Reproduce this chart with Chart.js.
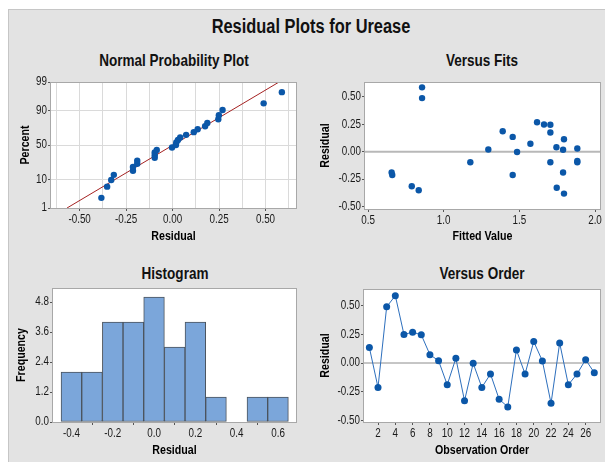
<!DOCTYPE html>
<html>
<head>
<meta charset="utf-8">
<title>Residual Plots for Urease</title>
<script src="https://cdn.jsdelivr.net/npm/chart.js@4.4.0/dist/chart.umd.min.js"></script>
<style>
  body { margin:0; background:#fff; width:605px; height:462px; position:relative; overflow:hidden;
         font-family:'Liberation Sans',Arial,sans-serif; }
  #frame { position:absolute; left:8px; top:9px; width:597px; height:453px; background:#e3e3e3;
           border-top:1px solid #c6c6c6; border-left:1px solid #c6c6c6; box-sizing:border-box; }
  /* the original uses a condensed face, so squeeze the text a bit */
  .ttl { position:absolute; font-weight:bold; color:#111; white-space:nowrap; transform:translate(-50%,-50%) scaleX(0.82); }
  canvas { position:absolute; }
</style>
</head>
<body>
<div id="frame"></div>
<div class="ttl" style="left:311px;top:26px;font-size:20px">Residual Plots for Urease</div>
<div class="ttl" style="left:174px;top:60px;font-size:16.5px">Normal Probability Plot</div>
<div class="ttl" style="left:482px;top:60px;font-size:16.5px">Versus Fits</div>
<div class="ttl" style="left:175px;top:273px;font-size:16.5px">Histogram</div>
<div class="ttl" style="left:482px;top:273px;font-size:16.5px">Versus Order</div>

<canvas id="npp"   width="300" height="212" style="left:0;top:40px"></canvas>
<canvas id="fits"  width="305" height="212" style="left:300px;top:40px"></canvas>
<canvas id="hist"  width="300" height="207" style="left:0;top:255px"></canvas>
<canvas id="order" width="305" height="207" style="left:300px;top:255px"></canvas>

<script>
// residuals in observation order, and the fitted value of each observation
var observation = [1,2,3,4,5,6,7,8,9,10,11,12,13,14,15,16,17,18,19,20,21,22,23,24,25,26,27];
var residuals = [0.135,-0.213,0.490,0.588,0.249,0.269,0.246,0.073,0.020,-0.190,0.041,-0.330,-0.003,-0.213,
                 -0.096,-0.316,-0.383,0.114,-0.096,0.187,0.018,-0.352,0.175,-0.190,-0.096,0.029,-0.085];
var fitted = [1.456,0.660,0.857,0.857,1.663,1.617,1.705,1.573,1.295,0.656,1.745,1.747,1.485,1.456,
              1.176,0.789,1.795,1.795,1.705,1.390,1.789,0.835,1.705,1.789,1.883,1.883,1.883];

// histogram bins (midpoints) and counts
var binMids = [-0.4,-0.3,-0.2,-0.1,0.0,0.1,0.2,0.3,0.4,0.5,0.6];
var binCounts = [2,2,4,4,5,3,4,1,0,1,1];

// tick labels
var probTicks = [1,10,50,90,99];
var nppGrid = [-0.625,-0.5,-0.375,-0.25,-0.125,0,0.125,0.25,0.375,0.5,0.625];
var nppLabels = [-0.5,-0.25,0,0.25,0.5];
var residTicks = [-0.5,-0.25,0,0.25,0.5];
var fitTicks = [0.5,1.0,1.5,2.0];
var freqTicks = [0,1.2,2.4,3.6,4.8];
var histTicks = [-0.4,-0.2,0,0.2,0.4,0.6];
var orderTicks = [2,4,6,8,10,12,14,16,18,20,22,24,26];

var FONT = "'Liberation Sans',Arial,sans-serif";
var BLUE = '#0b57a8';
var tickFont = {family: FONT, size: 12};
var titleFont = {family: FONT, size: 13, weight: 'bold'};

// no narrow font installed: draw canvas text horizontally condensed around its anchor
var SQUEEZE = 0.82;
var plainFillText = CanvasRenderingContext2D.prototype.fillText;
CanvasRenderingContext2D.prototype.fillText = function(text, x, y) {
  this.save();
  this.translate(x, y);
  this.scale(SQUEEZE, 1);
  plainFillText.call(this, text, 0, 0);
  this.restore();
};

function normInv(p) {
  var a=[-39.69683028665376,220.9460984245205,-275.9285104469687,138.3577518672690,-30.66479806614716,2.506628277459239];
  var b=[-54.47609879822406,161.5858368580409,-155.6989798598866,66.80131188771972,-13.28068155288572];
  var c=[-0.007784894002430293,-0.3223964580411365,-2.400758277161838,-2.549732539343734,4.374664141464968,2.938163982698783];
  var d=[0.007784695709041462,0.3224671290700398,2.445134137142996,3.754408661907416];
  var q, r;
  if (p < 0.02425) {
    q = Math.sqrt(-2*Math.log(p));
    return (((((c[0]*q+c[1])*q+c[2])*q+c[3])*q+c[4])*q+c[5])/((((d[0]*q+d[1])*q+d[2])*q+d[3])*q+1);
  }
  if (p > 1-0.02425) return -normInv(1-p);
  q = p-0.5; r = q*q;
  return (((((a[0]*r+a[1])*r+a[2])*r+a[3])*r+a[4])*r+a[5])*q/(((((b[0]*r+b[1])*r+b[2])*r+b[3])*r+b[4])*r+1);
}

// white plot area + grey frame
var boxPlugin = {
  id: 'box',
  beforeDraw: function(chart) {
    var a = chart.chartArea, c = chart.ctx;
    c.save(); c.fillStyle = '#fff'; c.fillRect(a.left, a.top, a.right-a.left, a.bottom-a.top); c.restore();
  },
  afterDraw: function(chart) {
    var a = chart.chartArea, c = chart.ctx;
    c.save(); c.strokeStyle = '#a8a8a8'; c.lineWidth = 1;
    c.strokeRect(Math.round(a.left)-0.5, Math.round(a.top)+0.5, Math.round(a.right-a.left)+1, Math.round(a.bottom-a.top));
    c.restore();
  }
};
// horizontal reference line at residual 0
var zeroPlugin = {
  id: 'zero',
  beforeDatasetsDraw: function(chart, args, opts) {
    if (!opts.width) return;
    var a = chart.chartArea, c = chart.ctx, y = chart.scales.y.getPixelForValue(0);
    c.save(); c.strokeStyle = opts.color; c.lineWidth = opts.width;
    c.beginPath(); c.moveTo(a.left, y); c.lineTo(a.right, y); c.stroke(); c.restore();
  }
};
Chart.register(boxPlugin, zeroPlugin);

function fixTicks(arr) { return function(s) { s.ticks = arr.map(function(v){ return {value: v}; }); }; }
function fixW(w) { return function(s) { s.width = w; }; }
function fixH(h) { return function(s) { s.height = h; }; }
function axisTitle(t) { return {display: true, text: t, font: titleFont, color: '#000', padding: 0}; }
function plainGrid() { return {drawOnChartArea: false, tickLength: 3, tickColor: '#555'}; }

var baseOpts = {responsive: false, animation: false, events: []};
function opts(pad, scales, zero) {
  return Object.assign({}, baseOpts, {
    layout: {padding: pad},
    plugins: {legend: {display: false}, tooltip: {enabled: false}, zero: zero || {}},
    scales: scales
  });
}

// ---- Normal probability plot
var n = residuals.length;
var sorted = residuals.slice().sort(function(a, b){ return a - b; });
var nppPts = sorted.map(function(v, i){ return {x: v, y: normInv((i + 1 - 0.3) / (n + 0.4))}; });
var mean = residuals.reduce(function(s, v){ return s + v; }, 0) / n;
var sd = Math.sqrt(residuals.reduce(function(s, v){ return s + (v - mean) * (v - mean); }, 0) / (n - 1));
var zLo = normInv(probTicks[0] / 100), zHi = normInv(probTicks[probTicks.length - 1] / 100);
var fitLine = [{x: mean + sd * zLo, y: zLo}, {x: mean + sd * zHi, y: zHi}];

new Chart(document.getElementById('npp'), {
  type: 'scatter',
  data: {datasets: [
    {data: nppPts, backgroundColor: BLUE, borderColor: BLUE, pointRadius: 3.2, borderWidth: 0},
    {data: fitLine, showLine: true, borderColor: '#a52222', borderWidth: 1, pointRadius: 0}
  ]},
  options: opts({left: 18, right: 3, top: 42, bottom: 8}, {
    x: {type: 'linear', min: -0.654, max: 0.664, afterBuildTicks: fixTicks(nppGrid), afterFit: fixH(36),
        ticks: {font: tickFont, color: '#1a1a1a', padding: 1, maxRotation: 0, autoSkip: false,
                callback: function(v){ return nppLabels.indexOf(v) >= 0 ? v.toFixed(2) : ''; }},
        grid: {color: '#dadada', tickLength: 3,
               tickColor: function(ctx){ return ctx.tick && nppLabels.indexOf(ctx.tick.value) >= 0 ? '#555' : 'rgba(0,0,0,0)'; }},
        border: {display: false}, title: axisTitle('Residual')},
    y: {type: 'linear', min: zLo, max: zHi,
        afterBuildTicks: fixTicks(probTicks.map(function(p){ return normInv(p / 100); })), afterFit: fixW(33),
        ticks: {font: tickFont, color: '#1a1a1a', padding: 1, autoSkip: false,
                callback: function(v, i){ return String(probTicks[i]); }},
        grid: {color: '#dadada', tickLength: 3, tickColor: '#555'},
        border: {display: false}, title: axisTitle('Percent')}
  })
});

// ---- Versus fits
new Chart(document.getElementById('fits'), {
  type: 'scatter',
  data: {datasets: [{
    data: fitted.map(function(f, i){ return {x: f, y: residuals[i]}; }),
    backgroundColor: BLUE, borderColor: BLUE, pointRadius: 3.2, borderWidth: 0
  }]},
  options: opts({left: 18, right: 5, top: 42, bottom: 8}, {
    x: {type: 'linear', min: 0.48, max: 2.033, afterBuildTicks: fixTicks(fitTicks), afterFit: fixH(35),
        ticks: {font: tickFont, color: '#1a1a1a', padding: 1, maxRotation: 0, autoSkip: false,
                callback: function(v){ return v.toFixed(1); }},
        grid: plainGrid(), border: {display: false}, title: axisTitle('Fitted Value')},
    y: {type: 'linear', min: -0.524, max: 0.637, afterBuildTicks: fixTicks(residTicks), afterFit: fixW(47),
        ticks: {font: tickFont, color: '#1a1a1a', padding: 1, autoSkip: false,
                callback: function(v){ return v.toFixed(2); }},
        grid: plainGrid(), border: {display: false}, title: axisTitle('Residual')}
  }, {color: '#b8b8b8', width: 2})
});

// ---- Histogram
new Chart(document.getElementById('hist'), {
  type: 'bar',
  data: {datasets: [{
    data: binMids.map(function(m, i){ return {x: m, y: binCounts[i]}; }),
    backgroundColor: '#7ba6da', borderColor: '#4b535c', borderWidth: 1, borderSkipped: false,
    barPercentage: 1, categoryPercentage: 1
  }]},
  options: opts({left: 14, right: 4, top: 33, bottom: 4}, {
    x: {type: 'linear', min: -0.489, max: 0.687, offset: false, afterBuildTicks: fixTicks(histTicks), afterFit: fixH(36),
        ticks: {font: tickFont, color: '#1a1a1a', padding: 1, maxRotation: 0, autoSkip: false,
                callback: function(v){ return v.toFixed(1); }},
        grid: plainGrid(), border: {display: false}, title: axisTitle('Residual')},
    y: {type: 'linear', min: 0, max: 5.36, afterBuildTicks: fixTicks(freqTicks), afterFit: fixW(39),
        ticks: {font: tickFont, color: '#1a1a1a', padding: 1, autoSkip: false,
                callback: function(v){ return v.toFixed(1); }},
        grid: plainGrid(), border: {display: false}, title: axisTitle('Frequency')}
  })
});

// ---- Versus order
new Chart(document.getElementById('order'), {
  type: 'scatter',
  data: {datasets: [{
    data: observation.map(function(o, i){ return {x: o, y: residuals[i]}; }),
    showLine: true, borderColor: '#2d6fbd', borderWidth: 1,
    backgroundColor: BLUE, pointBorderColor: BLUE, pointRadius: 3.5, pointBorderWidth: 0
  }]},
  options: opts({left: 18, right: 5, top: 34, bottom: 4}, {
    x: {type: 'linear', min: 0.38, max: 27.66, afterBuildTicks: fixTicks(orderTicks), afterFit: fixH(36),
        ticks: {font: tickFont, color: '#1a1a1a', padding: 1, maxRotation: 0, autoSkip: false},
        grid: plainGrid(), border: {display: false}, title: axisTitle('Observation Order')},
    y: {type: 'linear', min: -0.515, max: 0.646, afterBuildTicks: fixTicks(residTicks), afterFit: fixW(46),
        ticks: {font: tickFont, color: '#1a1a1a', padding: 1, autoSkip: false,
                callback: function(v){ return v.toFixed(2); }},
        grid: plainGrid(), border: {display: false}, title: axisTitle('Residual')}
  }, {color: '#8c8c8c', width: 1})
});
</script>
</body>
</html>
